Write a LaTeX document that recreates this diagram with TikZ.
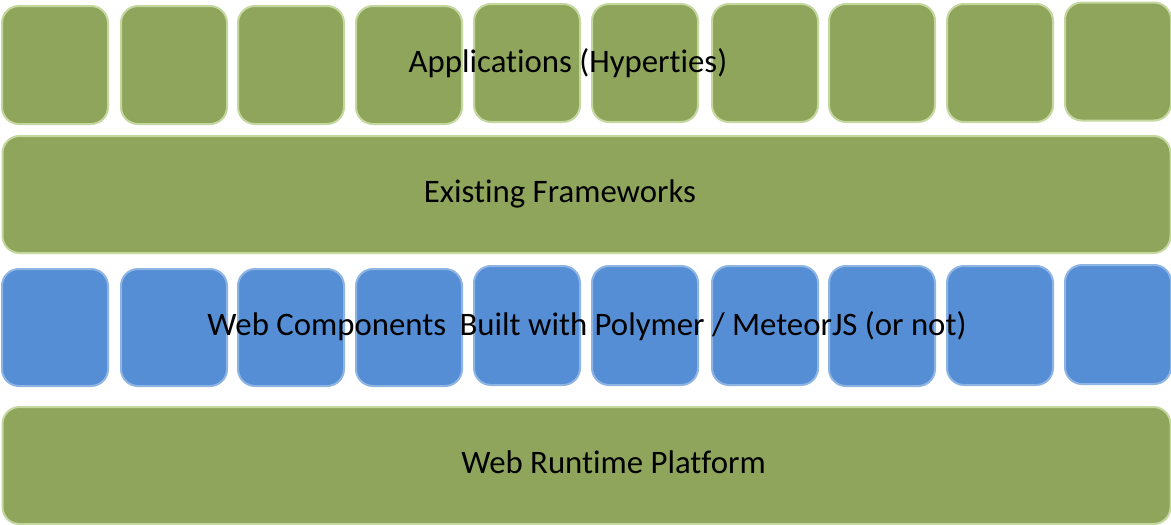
\documentclass[tikz,border=0pt]{standalone}
\usepackage{fontspec}
\setmainfont{Carlito}[Ligatures={NoCommon,NoRare}, Contextuals={NoAlternate}]
\definecolor{gfill}{HTML}{8EA55B}
\definecolor{gline}{HTML}{C4D79E}
\definecolor{bfill}{HTML}{558ED5}
\definecolor{bline}{HTML}{8EB4E3}
\begin{document}
\begin{tikzpicture}[x=1pt,y=-1pt,
  box/.style={rectangle, rounded corners=17pt, line width=2pt, inner sep=0pt, anchor=north west},
  gbox/.style={box, fill=gfill, draw=gline},
  bbox/.style={box, fill=bfill, draw=bline},
  small/.style={minimum width=106pt, minimum height=118pt},
  wide/.style={minimum width=1168pt, minimum height=117pt},
  lbl/.style={anchor=base, inner sep=0pt, font=\fontsize{32.8pt}{36pt}\selectfont, text=black}]
\fill[white] (0,0) rectangle (1171,525);
\useasboundingbox (0,0) rectangle (1171,525);
% top row: applications
\node[gbox,small] (a1) at (1,5) {};
\node[gbox,small] (a2) at (120,5) {};
\node[gbox,small] (a3) at (237,5) {};
\node[gbox,small] (a4) at (355,5) {};
\node[gbox,small] (a5) at (473,3) {};
\node[gbox,small] (a6) at (591,3) {};
\node[gbox,small] (a7) at (711,3) {};
\node[gbox,small] (a8) at (828,3) {};
\node[gbox,small] (a9) at (946,3) {};
\node[gbox,small] (a10) at (1064,1.5) {};
% existing frameworks
\node[gbox,wide] (fw) at (1.5,135) {};
% web components
\node[bbox,small,minimum height=117pt] (c1) at (1,268) {};
\node[bbox,small,minimum height=117pt] (c2) at (120,268) {};
\node[bbox,small,minimum height=117pt] (c3) at (237,268) {};
\node[bbox,small,minimum height=117pt] (c4) at (355,268) {};
\node[bbox,small,minimum height=119pt] (c5) at (473,265) {};
\node[bbox,small,minimum height=119pt] (c6) at (591,265) {};
\node[bbox,small,minimum height=119pt] (c7) at (711,265) {};
\node[bbox,small,minimum height=120pt] (c8) at (828,265) {};
\node[bbox,small,minimum height=119pt] (c9) at (946,265) {};
\node[bbox,small,minimum height=119pt] (c10) at (1064,264) {};
% web runtime platform
\node[gbox,wide] (rt) at (1.5,406) {};
% labels
\node[lbl] (tapp) at (568,72) {Applications (Hyperties)};
\node[lbl] (tfw) at (560,202) {Existing Frameworks};
\node[lbl] (tcomp) at (587,335) {Web Components\hspace{6pt} Built with Polymer / MeteorJS (or not)};
\node[lbl] (trt) at (613.5,473) {Web Runtime Platform};
\end{tikzpicture}
\end{document}
